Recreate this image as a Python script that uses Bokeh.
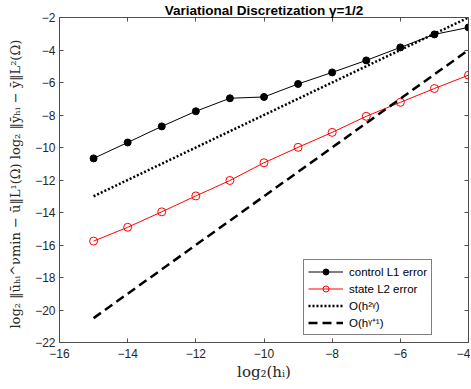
from bokeh.plotting import figure
from bokeh.models import Range1d, LinearAxis, Legend, LegendItem, FixedTicker
from bokeh.embed import file_html
from bokeh.resources import INLINE

# ---- data ----
h_log2 = [-15, -14, -13, -12, -11, -10, -9, -8, -7, -6, -5, -4]
control_L1 = [-10.67, -9.69, -8.70, -7.77, -6.97, -6.89, -6.09, -5.38, -4.64, -3.84, -3.04, -2.61]
state_L2 = [-15.76, -14.91, -13.96, -12.98, -12.03, -10.94, -9.99, -9.07, -8.08, -7.22, -6.37, -5.55]
ref_x = [-15, -4]
ref_h2g = [-13.0, -2.0]      # O(h^{2 gamma}), slope 1
ref_hg1 = [-20.5, -4.0]      # O(h^{gamma+1}), slope 1.5
x_ticks = [-16, -14, -12, -10, -8, -6, -4]
y_ticks = [-22, -20, -18, -16, -14, -12, -10, -8, -6, -4, -2]

title_text = "Variational Discretization γ=1/2"
x_label = "log₂(hᵢ)"
y_label = "log₂ ‖ūₕᵢ^νmin − ū‖L¹(Ω)   log₂ ‖ȳₕᵢ − ȳ‖L²(Ω)"
legend_labels = ["control L1 error", "state L2 error", "O(h²ᵞ)", "O(hᵞ⁺¹)"]

AX = "#4d4d4d"
TXT = "#262626"
SANS = "Liberation Sans"

p = figure(width=470, height=388,
           x_range=Range1d(-16, -4), y_range=Range1d(-22, -2),
           output_backend="svg", toolbar_location=None,
           min_border_left=59, min_border_right=2,
           min_border_top=17, min_border_bottom=46)

p.title.text = title_text
p.title.text_font = SANS
p.title.text_font_size = "13.5px"
p.title.text_font_style = "bold"
p.title.text_color = "#000000"
p.title.align = "center"
p.title.standoff = 0

p.xgrid.visible = False
p.ygrid.visible = False
p.outline_line_color = None
p.background_fill_color = "white"

def style_axis(ax, ticks):
    ax.ticker = FixedTicker(ticks=ticks)
    ax.axis_line_color = AX
    ax.axis_line_width = 1
    ax.major_tick_line_color = AX
    ax.major_tick_in = 4
    ax.major_tick_out = 0
    ax.minor_tick_line_color = None
    ax.major_label_text_font = SANS
    ax.major_label_text_font_size = "12px"
    ax.major_label_text_color = TXT

def style_box_axis(ax, ticks):
    # tick marks only (drawn as minor ticks, so no labels are produced)
    ax.ticker = FixedTicker(ticks=[], minor_ticks=ticks)
    ax.axis_line_color = AX
    ax.axis_line_width = 1
    ax.major_tick_line_color = None
    ax.minor_tick_line_color = AX
    ax.minor_tick_in = 4
    ax.minor_tick_out = 0
    ax.major_label_standoff = 0

style_axis(p.xaxis[0], x_ticks)
style_axis(p.yaxis[0], y_ticks)
p.xaxis[0].major_label_standoff = 6
p.yaxis[0].major_label_standoff = 4

p.xaxis[0].axis_label = x_label
p.xaxis[0].axis_label_text_font = "DejaVu Serif"
p.xaxis[0].axis_label_text_font_size = "15px"
p.xaxis[0].axis_label_text_font_style = "normal"
p.xaxis[0].axis_label_text_color = TXT
p.xaxis[0].axis_label_standoff = 2

p.yaxis[0].axis_label = y_label
p.yaxis[0].axis_label_text_font = "DejaVu Serif"
p.yaxis[0].axis_label_text_font_size = "13px"
p.yaxis[0].axis_label_text_font_style = "normal"
p.yaxis[0].axis_label_text_color = TXT
p.yaxis[0].axis_label_standoff = 9

top_ax = LinearAxis()
style_box_axis(top_ax, x_ticks)
p.add_layout(top_ax, "above")
right_ax = LinearAxis()
style_box_axis(right_ax, y_ticks)
p.add_layout(right_ax, "right")

# ---- data series ----
c_line = p.line(h_log2, control_L1, line_color="black", line_width=1)
c_pts = p.scatter(h_log2, control_L1, marker="circle", size=7,
                  fill_color="black", line_color="black")
s_line = p.line(h_log2, state_L2, line_color="#ff0000", line_width=1)
s_pts = p.scatter(h_log2, state_L2, marker="circle", size=8,
                  fill_color=None, line_color="#ff0000", line_width=1)
r1 = p.line(ref_x, ref_h2g, line_color="black", line_width=2.5,
            line_dash="2 2")
r2 = p.line(ref_x, ref_hg1, line_color="black", line_width=2.5,
            line_dash="9 5")

legend = Legend(items=[
    LegendItem(label=legend_labels[0], renderers=[c_line, c_pts]),
    LegendItem(label=legend_labels[1], renderers=[s_line, s_pts]),
    LegendItem(label=legend_labels[2], renderers=[r1]),
    LegendItem(label=legend_labels[3], renderers=[r2]),
], location=(244, 7))
legend.label_text_font = SANS
legend.label_text_font_size = "11.5px"
legend.label_text_color = "#000000"
legend.glyph_width = 35
legend.glyph_height = 15
legend.label_height = 15
legend.label_width = 78
legend.spacing = 2
legend.padding = 4
legend.margin = 0
legend.label_standoff = 6
legend.border_line_color = "black"
legend.border_line_width = 1
legend.background_fill_color = "white"
legend.background_fill_alpha = 1
p.add_layout(legend, "center")

open("out.html", "w").write(file_html(p, INLINE))
